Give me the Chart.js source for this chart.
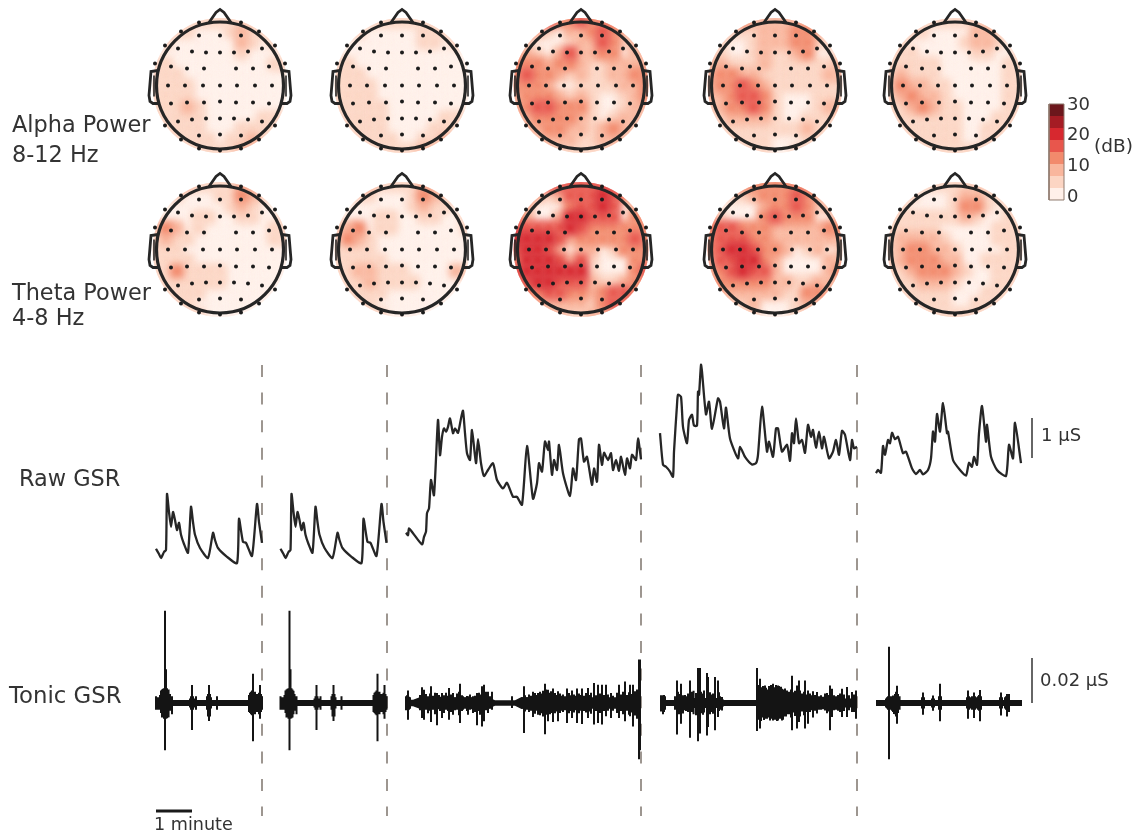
<!DOCTYPE html>
<html>
<head>
<meta charset="utf-8">
<title>EEG power and GSR</title>
<script src="https://cdn.jsdelivr.net/npm/chart.js@4/dist/chart.umd.min.js"></script>
<style>
html, body { margin: 0; padding: 0; background: #fff; }
canvas { display: block; filter: blur(0.4px); }
</style>
</head>
<body>
<canvas id="chart" width="1137" height="835"></canvas>
<script>
// scalp maps, dB per grid cell (13 x 13, top of the head first)
const alphaMap1 = [
    [5,5,5,5,5,5,5,5,5,5,5,5,5],[5,5,5,5,1,1,1,5,9,5,5,5,5],[5,5,1,1,1,1,1,1,9,5,1,5,5],
    [1,1,1,1,1,1,1,1,5,1,1,1,1],[5,5,1,1,1,1,1,1,1,1,1,5,5],[5,5,5,1,1,1,1,1,1,1,1,1,1],
    [5,5,5,5,1,1,1,1,1,1,1,1,1],[5,5,5,5,1,1,1,1,1,1,1,1,1],[5,5,5,9,5,1,1,1,1,1,1,1,1],
    [5,5,5,5,5,1,1,1,1,1,5,5,5],[5,5,5,5,5,1,1,1,5,5,5,5,5],[5,5,5,5,5,5,1,5,5,9,5,5,5],
    [5,5,5,5,5,5,5,5,9,9,5,5,5]
];
const alphaMap2 = [
    [5,5,5,5,5,5,5,5,5,5,5,5,5],[5,5,5,1,1,1,1,1,5,5,5,5,5],[5,1,1,1,1,1,1,1,5,5,1,5,5],
    [1,1,1,1,1,1,1,1,1,1,1,1,1],[5,5,1,1,1,1,1,1,1,1,1,1,1],[5,5,5,1,1,1,1,1,1,1,1,1,1],
    [5,5,5,5,1,1,1,1,1,1,1,1,1],[5,5,5,5,1,1,1,1,1,1,1,1,1],[5,5,5,5,5,1,1,1,1,1,1,1,1],
    [5,5,5,5,5,1,1,1,1,1,5,5,5],[5,5,5,5,5,1,1,1,1,5,5,5,5],[5,5,5,5,5,5,1,1,5,5,9,5,5],
    [5,5,5,5,5,5,5,5,9,9,5,5,5]
];
const alphaMap3 = [
    [9,13,17,17,13,13,17,13,13,13,13,9,9],[9,13,9,5,1,9,9,13,17,13,9,9,9],[9,5,1,1,1,5,9,9,17,13,5,9,9],
    [9,9,5,1,9,17,9,9,13,13,1,9,9],[13,13,13,9,13,13,9,5,5,9,9,9,9],[13,17,13,13,9,5,9,5,5,9,9,13,13],
    [13,13,13,9,1,1,5,5,5,5,9,9,13],[9,13,13,13,9,5,9,5,1,1,5,9,13],[9,13,17,17,13,13,13,5,1,1,5,9,9],
    [9,9,13,13,13,13,9,5,1,5,9,9,5],[5,9,9,13,13,9,9,5,9,13,9,5,5],[5,5,5,9,9,9,5,5,9,9,5,5,5],
    [9,5,5,5,5,5,5,5,5,5,5,5,5]
];
const alphaMap4 = [
    [9,13,13,13,9,9,9,9,9,9,9,9,5],[9,9,5,5,5,9,9,9,13,13,9,5,5],[5,5,1,1,5,9,9,9,13,13,5,5,5],
    [5,5,1,1,5,9,5,5,9,13,1,1,5],[9,9,5,5,5,9,5,5,5,5,5,5,9],[9,13,13,9,9,5,5,5,5,5,5,9,9],
    [9,13,13,17,13,9,5,5,5,5,5,5,5],[9,9,13,17,17,13,5,1,1,1,5,5,5],[5,9,13,13,17,13,5,1,1,1,5,9,9],
    [5,5,9,9,9,9,5,1,1,5,5,5,5],[5,5,5,5,5,5,5,5,5,9,5,5,5],[5,5,5,5,5,5,1,1,1,5,5,5,5],
    [5,5,5,5,5,5,1,1,5,5,5,5,5]
];
const alphaMap5 = [
    [5,9,9,5,5,5,5,5,5,5,5,5,5],[5,5,5,5,1,1,1,1,9,9,5,5,5],[5,5,1,1,1,1,1,5,9,9,5,1,5],
    [5,5,5,1,1,1,1,1,5,5,1,1,5],[5,5,5,5,5,1,1,1,1,1,1,5,5],[5,9,5,5,5,1,1,1,1,1,1,5,5],
    [5,13,9,9,5,5,1,1,1,1,1,5,5],[5,9,13,9,9,5,1,1,1,1,1,5,5],[5,5,9,13,9,5,5,1,1,1,1,5,5],
    [5,5,5,5,5,5,5,1,1,1,5,5,5],[5,5,5,5,5,5,5,1,1,5,5,5,5],[5,5,5,5,5,5,5,1,1,5,5,5,5],
    [5,5,5,5,5,5,5,5,5,5,5,5,5]
];
const thetaMap1 = [
    [9,13,13,9,5,5,5,5,9,9,5,5,5],[9,5,5,1,1,1,5,5,13,9,5,5,5],[5,1,1,1,1,1,1,5,9,5,1,1,5],
    [1,1,1,1,5,5,1,1,5,5,1,1,5],[5,13,9,1,5,1,1,1,1,1,1,5,5],[5,9,5,5,1,1,1,1,1,1,1,5,5],
    [5,5,5,1,1,1,1,1,1,1,1,1,1],[5,5,5,5,1,1,1,1,1,1,1,1,1],[5,5,13,5,5,5,5,1,1,1,1,1,1],
    [5,5,5,5,5,5,5,1,1,1,1,1,1],[1,5,5,5,5,1,1,1,1,1,1,1,1],[5,5,5,5,1,1,1,1,1,1,1,1,1],
    [5,5,5,5,5,1,1,1,1,1,1,1,1]
];
const thetaMap2 = [
    [9,13,13,9,5,5,5,5,9,9,5,5,5],[9,5,5,5,1,1,1,5,13,9,5,5,5],[5,1,1,1,1,1,1,5,9,5,5,1,5],
    [1,1,1,1,5,5,1,1,5,5,1,1,5],[5,9,13,1,5,5,1,1,1,1,1,1,5],[5,13,9,5,1,1,1,1,1,1,1,1,1],
    [5,5,5,5,1,1,1,1,1,1,1,1,1],[5,5,5,5,5,1,1,1,1,1,1,1,1],[5,5,9,9,5,5,5,1,1,1,1,9,5],
    [1,5,5,9,5,5,5,5,1,1,1,1,1],[1,5,5,5,5,1,1,1,1,1,1,1,1],[5,5,5,5,1,1,1,1,1,1,1,1,1],
    [5,5,5,5,5,1,1,1,1,1,5,5,5]
];
const thetaMap3 = [
    [13,17,17,17,17,17,17,17,17,17,13,13,9],[13,13,9,5,9,17,17,17,21,17,13,9,9],[13,9,1,1,1,13,17,17,21,17,1,9,9],
    [13,9,1,1,9,21,21,17,17,17,1,13,13],[17,17,17,17,17,21,17,13,13,13,13,13,13],[21,21,21,21,17,9,13,13,13,13,13,17,13],
    [17,21,21,17,9,1,9,9,1,5,13,13,13],[13,21,21,21,17,9,17,5,1,1,1,13,13],[17,21,21,21,21,21,21,5,1,1,1,13,17],
    [13,17,21,21,17,17,17,9,5,5,9,13,13],[9,13,13,17,17,13,13,9,13,17,17,13,9],[9,9,9,9,9,9,9,5,13,17,13,9,9],
    [9,9,9,9,9,5,5,9,9,9,9,9,9]
];
const thetaMap4 = [
    [9,13,13,13,13,13,13,13,13,13,9,9,9],[9,5,5,5,9,13,13,13,17,13,9,9,9],[9,1,1,1,1,9,13,13,17,13,5,9,9],
    [9,5,1,1,1,13,17,13,13,13,1,1,9],[13,17,17,13,13,13,9,9,9,9,9,13,13],[13,17,17,17,13,13,9,9,9,9,9,9,9],
    [13,17,21,21,17,13,13,9,1,5,9,1,5],[9,17,17,21,21,13,9,1,1,1,1,9,9],[9,13,17,21,17,17,9,1,1,1,1,9,13],
    [9,13,13,13,13,13,9,9,5,5,9,9,9],[5,9,9,9,9,9,9,5,5,13,13,9,5],[5,5,5,5,9,1,1,1,5,9,5,5,5],
    [5,5,5,5,5,1,1,1,5,5,5,5,5]
];
const thetaMap5 = [
    [9,9,5,5,5,5,5,5,5,5,5,5,5],[5,5,5,1,1,1,5,9,9,5,5,5,5],[5,5,1,1,1,1,5,13,13,5,1,5,5],
    [5,5,5,5,5,5,5,9,5,1,1,5,5],[5,5,5,5,5,1,1,1,1,1,5,5,5],[5,9,9,9,9,5,1,1,1,1,5,5,5],
    [5,9,13,13,9,9,5,1,1,1,1,5,5],[5,9,13,13,13,9,9,1,1,5,5,5,5],[5,5,9,13,13,13,9,5,1,1,5,5,5],
    [5,5,5,9,9,9,5,1,1,1,5,5,5],[5,5,5,5,5,5,1,1,1,5,5,5,5],[5,5,5,5,5,5,1,1,5,5,5,5,5],
    [5,5,5,5,5,5,5,5,5,5,5,5,5]
];

// colour bar
const dbEdges = [0, 3.75, 7.5, 11.25, 15, 18.75, 22.5, 26.25, 30];
const dbColors = ["#fff0e9", "#fcd5c3", "#f9b69d", "#f28a6c", "#e8564c", "#d7282f", "#a51c24", "#6c171c"];

// electrode layout, px from head centre
const electrodeX = [-21,0,21, -42,-28,-14,0,14,28,42, -49,-33,-16,16,33,49, -52,-35,-17,0,17,35,52, -49,-33,-16,0,16,33,49, -42,-28,-14,0,14,28,42, -21,0,21,
    -21,21,-39,39,-55,55,-65,65,-55,55,-39,39,-21,21,0];
const electrodeY = [-50,-50,-50, -37,-34,-33,-33,-33,-34,-37, -19,-17,-17,-17,-17,-19, 0,0,0,0,0,0,0, 18,17,17,16,17,17,18, 36,34,33,33,33,34,36, 50,49,50,
    -63,-63,-54,-54,-40,-40,-22,-22,40,40,54,54,63,63,65];

// head outline, px from head centre
const noseX = [-11,-4,0,4,11];
const noseY = [-63,-73,-76,-73,-63];
const earX = [-62,-69,-71,-70,-67,-62];
const earY = [-15,-14,10,16,18,18];
const earInnerX = [-66,-66];
const earInnerY = [-10,11];

// raw GSR, samples from segment start and uS (1 minute = 36 samples)
const rawT1 = [0,3,5,8,10,11,13,15,17,19,21,23,25,28,32,35,37,39,44,52,57,59,62,71,81,83,87,90,96,101,103,106];
const rawV1 = [0.28,0.15,0.05,0.2,0.25,1.65,1.2,0.83,1.2,1.0,0.75,0.93,0.63,0.4,0.18,1.33,0.95,0.63,0.3,0.05,0.68,0.5,0.3,0.08,-0.08,1.03,0.45,0.43,0.1,1.4,0.95,0.43];
const rawT3 = [1,3,4,8,17,19,21,22,24,26,29,33,35,37,39,41,43,45,48,50,53,56,58,60,62,65,67,71,73,76,79,83,88,92,98,102,108,112,117,122,128,132,134,137,140,143,144,147,149,152,154,158,165,168,171,174,176,179,182,187,189,192,194,197,199,203,206,208,211,214,216,220,222,225,227,231,233,236];
const rawV3 = [0.68,0.62,0.79,0.67,0.39,0.58,0.71,1.17,1.29,2,1.62,3.5,2.62,3.08,3.29,3.21,3.33,3.54,3.17,3.29,3.18,3.54,3.73,3.17,2.67,2.5,3.25,2.42,3.02,2.42,2.1,2.25,2.42,2,1.79,1.93,1.58,1.58,1.38,2.85,1.53,1.92,2.42,2.21,2.96,2.75,2.96,2.13,2.5,2.25,2.88,2.17,1.6,2.29,2,3.02,3.04,2.46,2.58,1.88,2.29,1.96,2.88,2.38,2.68,2.5,2.67,2.25,2.5,2.23,2.58,2.13,2.54,2.29,2.63,2.5,3.04,2.52];
const rawT4 = [0,3,6,10,13,14,17,18,21,23,27,29,32,34,37,38,39,41,42,46,49,52,58,60,64,66,70,78,80,85,92,96,98,102,107,109,113,116,118,122,127,130,132,134,136,139,142,145,148,151,153,156,159,162,164,169,173,176,179,182,185,190,192,194,197];
const rawV4 = [3.17,2.38,2.33,2.21,2.08,2.71,3.88,4.13,4.08,3.33,2.92,3.5,3.63,3.36,3.36,4.21,4.13,4.88,4.71,3.64,3.96,3.28,4.04,3.96,3.29,3.81,3.04,2.54,2.83,2.58,2.39,2.42,2.63,3.83,2.71,2.96,2.58,3.29,3.29,2.71,2.88,2.48,3.17,2.92,3.54,2.92,3,2.68,3.38,3.08,3.25,2.81,3.21,2.79,3.08,2.54,2.71,3,2.63,3.23,3.13,2.5,3,2.79,2.83];
const rawT5 = [0,2,5,7,9,12,14,16,19,22,27,30,36,40,44,47,52,55,57,59,61,64,67,71,72,77,84,90,93,96,98,101,103,106,110,111,115,121,130,133,137,139,145];
const rawV5 = [2.17,2.25,2.18,2.85,2.63,3,2.92,3.18,3.02,3.08,2.67,2.71,2.29,2.15,2.25,2.14,2.25,2.54,3.21,2.96,3.65,3.21,3.92,3.17,3.21,2.5,2.25,2.11,2.43,2.33,2.58,2.38,3.17,3.85,2.96,3.38,2.58,2.25,2.1,2.88,2.54,3.43,2.42];

// tonic GSR, nS: thin band around zero plus single spikes
const bandT1 = [0,106];
const bandV1 = [1.3,1.3];
const spikeT1 = [0,1,2,4,5,6,7,8,9,10,11,12,13,14,16,34,35,36,37,38,40,51,52,53,54,55,61,93,94,95,96,97,98,99,100,102,103,104,105,106];
const spikeHi1 = [3,2.5,2.5,3.5,5.5,6,6.3,6.5,41,15,6.5,6,5.4,4,3,2,3,8,3,2,3,3,4,8,4,2.5,3,3.5,4.5,5,5.5,13,5,5,4,4,4.5,8,4,3];
const spikeLo1 = [-3,-3,-3,-3,-4.5,-6.5,-6,-7,-21,-7,-6.8,-6.4,-5,-3.5,-5,-2,-3,-12,-3,-2,-3,-3,-6,-8,-6,-2.5,-3,-4,-4.5,-5,-5.5,-17,-5,-5,-4,-4,-5,-7,-4,-3];

const bandT3 = [0,8,14,84,90,110,116,235];
const bandV3 = [1.4,1.4,2.4,2.4,1.2,1.2,2.6,2.6];
const spikeT3 = [3,17,19,26,32,37,44,48,55,58,63,68,72,77,79,83,87,107,119,128,133,140,143,148,153,162,167,172,177,183,189,193,197,201,206,214,220,225,228,234,235];
const spikeHi3 = [5.5,7,5.9,7.4,4.4,4.4,6.7,4.4,8.5,3,3,3,4.4,7.4,8.1,5,5,3,7.4,5,4.4,8.5,5.9,6.4,5.2,6.4,5.5,6.4,6.4,6.7,8.9,8.1,8.1,8.1,4.4,8.1,9.6,8.1,8.1,19.3,19.3];
const spikeLo3 = [-7.4,-6.7,-7.4,-8.4,-9.9,-6.7,-7.4,-5.2,-8.9,-3,-5.2,-4.4,-9.9,-10.4,-8.1,-4.4,-3,-2.2,-13.3,-6.2,-5.2,-13.9,-8.1,-8.4,-8.1,-8.9,-6.7,-8.9,-9.3,-6.7,-9.6,-8.9,-9.6,-5.9,-6.7,-6.7,-8.1,-5.9,-10.4,-25,-21];
const fineT3 = [1,2,4,5,15,18,21,23,25,28,30,34,35,39,41,43,46,50,52,54,57,60,62,65,67,70,74,75,81,85,117,120,122,124,126,130,131,135,137,138,141,145,146,150,151,155,156,158,160,164,165,169,170,174,175,179,181,185,186,191,195,199,203,208,212,216,218,222,224,227,230,232];
const fineHi3 = [3,3.4,2.8,2.6,3.5,2.8,4,3,4.2,3.2,4.5,3.6,2.8,3.4,4.5,3.2,3.8,2.6,4.2,5,3.4,2.6,3.1,3.8,2.5,3.2,4.6,3.8,5,3,2.5,3.4,2.6,3.8,3.2,4.4,3.6,5,4.2,5.4,6,4.6,5.2,4.4,3.6,4.2,3.2,3.8,3,4.4,3.4,3.8,3.2,4.2,3.6,3.2,4.4,3.6,4.6,3.4,4.2,3.6,3.8,3.2,4.6,3.8,5,3.6,4.8,4,5.2,6];
const fineLo3 = [-3.2,-2.8,-3,-2.6,-3.2,-4,-3,-4.6,-3.4,-3,-5,-2.8,-3.6,-4.4,-3,-3.6,-4,-3.2,-3,-5.4,-3.6,-2.4,-3.6,-3,-2.8,-4,-3.6,-5.2,-3.2,-2.6,-2.6,-3.8,-3,-4,-3.4,-4.8,-3.4,-5.4,-4.6,-6,-5.2,-5,-4.4,-4.6,-3.8,-4.4,-3.4,-4,-3.2,-4.6,-3.6,-4.2,-3.2,-4.6,-3.4,-3.6,-4.2,-3.8,-4.8,-3.6,-4.4,-3.6,-3.4,-3.4,-4.4,-3.6,-5,-3.4,-5.2,-4.2,-5.6,-7];

const bandT4 = [0,14,16,62,64,96,97,128,130,197];
const bandV4 = [1.3,1.3,2.2,2.2,1.3,1.3,4.5,4,2.1,2];
const spikeT4 = [3,17,21,23,30,32,38,40,47,48,55,58,62,97,100,105,113,118,122,132,137,139,145,148,153,157,165,170,172,182,187,192,196];
const spikeHi4 = [3.4,10,8.6,3.4,10,5,15.6,15.6,13.3,11.6,11.6,10,2.7,15.6,10.8,7.8,8.6,7.8,6.3,12.1,7.8,10,10,5.6,5.2,4.9,4.2,7.8,6.3,6.3,7.1,4.9,5.6];
const spikeLo4 = [-5,-14,-9.2,-4.7,-15.4,-4,-17,-13.6,-14.4,-10.7,-12.1,-6.2,-3.3,-12.4,-11.3,-7,-7.8,-7.8,-7.8,-12.1,-11.3,-8.4,-11.3,-9.2,-6.5,-4.7,-3.3,-12.1,-6.2,-6.2,-6.2,-4,-7];
const fineT4 = [1,2,4,5,15,18,19,22,25,26,28,33,34,36,41,43,44,50,51,53,59,60,98,99,101,102,103,104,106,107,108,109,110,111,112,114,115,116,117,119,120,121,123,124,125,126,127,129,131,133,135,138,140,142,144,147,150,152,155,159,161,163,167,168,171,174,176,178,180,184,189,194];
const fineHi4 = [3.4,3,3.5,3,3,5,4,3.2,3.6,3,4.2,5.4,3.6,4.4,5,4.2,5.6,4.8,3.8,4.2,4.8,3,8,6.5,7,5.5,7.5,6,6.8,5.5,6,7.5,6.5,8,6,7,5.8,8,6.5,7.5,6,7.2,6,5.5,6.4,5,5.6,5,6,4.8,5.4,4.4,5.6,4.2,5,3.8,4.2,3.4,3.6,3,3.4,2.8,4.4,3.6,4.8,3.4,3,3.6,4.2,3.8,3.4,3.8];
const fineLo4 = [-3.8,-3.2,-4,-3,-3,-4.6,-5,-3.4,-3.2,-3.6,-4,-5,-4.2,-5.4,-4.6,-5.2,-4.2,-5,-4,-4.8,-3.6,-3,-7.5,-6,-8,-6.5,-6,-7.6,-6,-7,-6.4,-6,-7.8,-6,-7,-6.2,-7.4,-6,-8,-6.4,-7,-6,-7.4,-6,-5,-6,-5,-5,-6.4,-4.2,-5.8,-4.6,-6,-3.8,-5.4,-4,-4,-3.2,-3.4,-3,-3,-2.8,-4.6,-3.8,-5,-3.2,-3,-3.4,-4,-3.6,-3.2,-4];

const bandT5 = [0,146];
const bandV5 = [1.3,1.3];
const spikeT5 = [10,11,12,13,14,15,16,17,18,19,20,21,22,23,24,46,47,48,56,57,58,63,64,65,91,92,93,94,96,97,98,99,100,102,103,104,105,124,125,126,129,130,131,132,133];
const spikeHi5 = [2,2.5,3,25,3,3,3,3.3,3.3,4,5,7.7,4,3,2,2.5,4.7,2.5,2,3.3,2,3,8.5,3,2.5,5.5,3,2.5,3,3,4.7,3,2.5,3,3.5,5.8,3,2.5,4.7,2.5,2.5,3,4,3.5,4];
const spikeLo5 = [-2,-2.5,-3,-25,-3,-3,-3.5,-4,-4.9,-5,-6,-9.2,-4.5,-3,-2,-2.5,-5.2,-2.5,-2,-3.4,-2,-3,-8.1,-3,-2.5,-7,-3,-2.5,-3,-3,-6.7,-3,-2.5,-3,-3.5,-8.1,-3,-2.5,-5.6,-2.5,-2.5,-3,-6,-3.5,-4];

const dividerSamples = [106, 231, 485, 701];
const minuteBar = [0, 36];
const rawBar = [0, 1];
const tonicBar = [0, 20];

// layout
const headColumns = [220, 402, 581, 775, 955];
const headRows = [85.5, 249.5];
const maps = [
    [alphaMap1, alphaMap2, alphaMap3, alphaMap4, alphaMap5],
    [thetaMap1, thetaMap2, thetaMap3, thetaMap4, thetaMap5]
];
const segmentStart = [0, 124.5, 249, 504, 720];
const inkColor = "#262626";

const labels = [
    { text: "Alpha Power", x: 12, y: 132, size: 22.4 },
    { text: "8-12 Hz", x: 12, y: 162, size: 22.4 },
    { text: "Theta Power", x: 12, y: 300, size: 22.4 },
    { text: "4-8 Hz", x: 12, y: 325, size: 22.4 },
    { text: "Raw GSR", x: 19, y: 486, size: 22.4 },
    { text: "Tonic GSR", x: 9, y: 703, size: 22.8 },
    { text: "1 µS", x: 1041, y: 441, size: 18 },
    { text: "0.02 µS", x: 1040, y: 686, size: 18 },
    { text: "1 minute", x: 154, y: 830, size: 17.6 },
    { text: "30", x: 1067, y: 110, size: 18 },
    { text: "20", x: 1067, y: 140, size: 18 },
    { text: "10", x: 1067, y: 171, size: 18 },
    { text: "0", x: 1067, y: 202, size: 18 },
    { text: "(dB)", x: 1094, y: 152, size: 18.5 }
];

const datasets = [];

function zip(xs, ys, dx = 0, dy = 0) {
    return xs.map((x, i) => ({ x: x + dx, y: ys[i] + dy }));
}

function addLine(data, xAxisID, yAxisID, color, width, order, extra = {}) {
    datasets.push(Object.assign({
        data, xAxisID, yAxisID, order,
        borderColor: color, borderWidth: width, pointRadius: 0, tension: 0, fill: false
    }, extra));
}

function colorForDb(value) {
    let i = dbEdges.findIndex(e => value < e) - 1;
    return dbColors[i < 0 ? dbColors.length - 1 : i];
}

headRows.forEach((cy, r) => {
    headColumns.forEach((cx, c) => {
        const cells = [];
        maps[r][c].forEach((row, j) => row.forEach((value, i) => {
            cells.push({ x: cx + (i - 6) * 10.8, y: cy + (j - 6) * 10.8, db: value });
        }));
        // strongest cells last so they stay on top after the blur
        cells.sort((a, b) => a.db - b.db);
        datasets.push({
            data: cells, xAxisID: "px", yAxisID: "py", order: 9, showLine: false,
            pointStyle: "rect", pointRadius: 10, pointBorderWidth: 0,
            pointBackgroundColor: cells.map(cell => colorForDb(cell.db)), headCentre: { x: cx, y: cy }
        });
        addLine([{ x: cx, y: cy }], "px", "py", inkColor, 0, 3, {
            showLine: false, pointRadius: 63.5, pointBorderWidth: 3.2,
            pointBorderColor: inkColor, pointBackgroundColor: "rgba(0,0,0,0)"
        });
        addLine(zip(noseX, noseY, cx, cy), "px", "py", inkColor, 2.8, 3);
        [1, -1].forEach(side => {
            addLine(earX.map((x, i) => ({ x: cx + side * x, y: cy + earY[i] })), "px", "py", inkColor, 2.8, 3);
            addLine(earInnerX.map((x, i) => ({ x: cx + side * x, y: cy + earInnerY[i] })), "px", "py", inkColor, 1.6, 3);
        });
        addLine(zip(electrodeX, electrodeY, cx, cy), "px", "py", inkColor, 0, 2, {
            showLine: false, pointRadius: 2, pointBackgroundColor: "#1c1c1c", pointBorderWidth: 0
        });
    });
});

// colour bar
dbColors.forEach((color, i) => {
    addLine([{ x: 1056.5, y: dbEdges[i] }, { x: 1056.5, y: dbEdges[i + 1] }], "px", "yDb", color, 15, 8, { borderCapStyle: "butt" });
});
addLine([{ x: 1049, y: 0 }, { x: 1064, y: 0 }, { x: 1064, y: 30 }, { x: 1049, y: 30 }, { x: 1049, y: 0 }], "px", "yDb", "#8f7a6e", 1, 7);

// raw GSR
const rawSegments = [[rawT1, rawV1], [rawT1, rawV1], [rawT3, rawV3], [rawT4, rawV4], [rawT5, rawV5]];
rawSegments.forEach(([t, v], i) => {
    addLine(zip(t, v, segmentStart[i]), "xSample", "yRaw", "#262626", 2.3, 4, { borderJoinStyle: "round", tension: 0.2 });
});

// tonic GSR
const tonicSegments = [
    [bandT1, bandV1, spikeT1, spikeHi1, spikeLo1],
    [bandT1, bandV1, spikeT1, spikeHi1, spikeLo1],
    [bandT3, bandV3, spikeT3.concat(fineT3), spikeHi3.concat(fineHi3), spikeLo3.concat(fineLo3)],
    [bandT4, bandV4, spikeT4.concat(fineT4), spikeHi4.concat(fineHi4), spikeLo4.concat(fineLo4)],
    [bandT5, bandV5, spikeT5, spikeHi5, spikeLo5]
];
tonicSegments.forEach(([bt, bv, st, hi, lo], i) => {
    const start = segmentStart[i];
    addLine(zip(bt, bv, start), "xSample", "yTonic", "#141414", 0, 5, { fill: "+1", backgroundColor: "#141414" });
    addLine(bt.map((t, k) => ({ x: t + start, y: -bv[k] })), "xSample", "yTonic", "#141414", 0, 5);
    const trace = [];
    st.forEach((t, k) => {
        trace.push({ x: t + start, y: 0 }, { x: t + start, y: hi[k] }, { x: t + start, y: lo[k] }, { x: t + start, y: 0 });
    });
    addLine(trace, "xSample", "yTonic", "#141414", 2, 4);
});

// dashed dividers, scale bars
dividerSamples.forEach(s => {
    addLine([{ x: s, y: 4.875 }, { x: s, y: -6.4 }], "xSample", "yRaw", "#7d746c", 1.5, 6, { borderDash: [12, 15.6] });
});
addLine(minuteBar.map(t => ({ x: t, y: -6.275 })), "xSample", "yRaw", "#1a1a1a", 3, 4);
addLine(rawBar.map(v => ({ x: 876, y: v + 2.55 })), "xSample", "yRaw", "#333", 1.5, 4);
addLine(tonicBar.map(v => ({ x: 876, y: v })), "xSample", "yTonic", "#333", 1.5, 4);

const mapBlur = {
    id: "mapBlur",
    beforeDatasetDraw(chart, args) {
        const centre = chart.data.datasets[args.index].headCentre;
        if (!centre) return;
        const ctx = chart.ctx;
        ctx.save();
        ctx.beginPath();
        ctx.arc(chart.scales.px.getPixelForValue(centre.x), chart.scales.py.getPixelForValue(centre.y), 67.5, 0, Math.PI * 2);
        ctx.clip();
        ctx.filter = "blur(3.5px)";
    },
    afterDatasetDraw(chart, args) {
        if (chart.data.datasets[args.index].headCentre) chart.ctx.restore();
    }
};

const textLabels = {
    id: "textLabels",
    afterDatasetsDraw(chart) {
        const ctx = chart.ctx;
        ctx.save();
        ctx.fillStyle = "#333";
        ctx.textBaseline = "alphabetic";
        labels.forEach(l => {
            ctx.font = `${l.size}px "DejaVu Sans"`;
            ctx.fillText(l.text, l.x, l.y);
        });
        ctx.restore();
    }
};

function hiddenScale(min, max, reverse = false) {
    return { type: "linear", display: false, min, max, reverse };
}

new Chart(document.getElementById("chart").getContext("2d"), {
    type: "line",
    data: { datasets },
    options: {
        responsive: false,
        animation: false,
        parsing: { xAxisKey: "x", yAxisKey: "y" },
        layout: { padding: 0, autoPadding: false },
        clip: false,
        plugins: { legend: { display: false }, tooltip: { enabled: false }, title: { display: false } },
        events: [],
        scales: {
            px: hiddenScale(0, 1137),
            py: hiddenScale(0, 835, true),
            xSample: hiddenScale(-156, 981),
            yRaw: hiddenScale(-6.875, 14),
            yTonic: hiddenScale(-58.67, 312.44),
            yDb: hiddenScale(-198.44, 62.5)
        }
    },
    plugins: [mapBlur, textLabels]
});
</script>
</body>
</html>
